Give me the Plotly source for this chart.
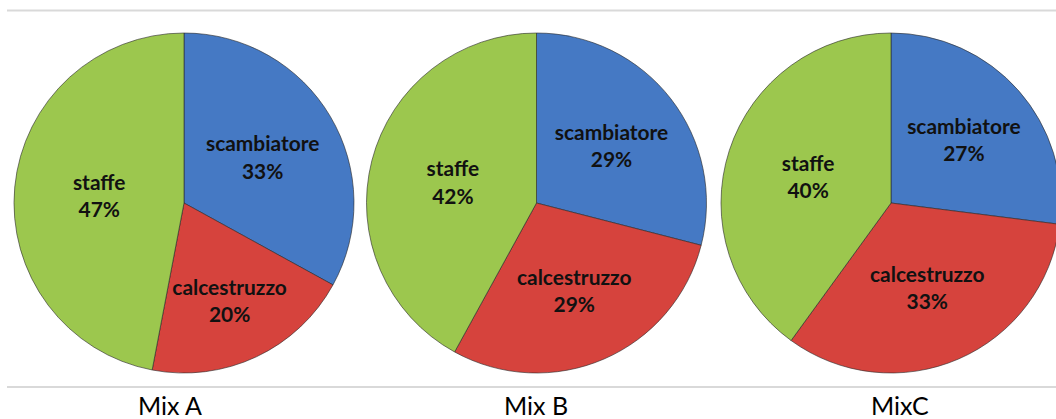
import plotly.graph_objects as go

# ---- data ----
categories = ["scambiatore", "calcestruzzo", "staffe"]
mix_names = ["Mix A", "Mix B", "MixC"]
mix_a = [33, 20, 47]
mix_b = [29, 29, 42]
mix_c = [27, 33, 40]
series = [mix_a, mix_b, mix_c]
colors = ["#4579c4", "#d6433d", "#9cc74e"]

# ---- layout geometry (pixels) ----
W, H = 1070, 419
centers_x = [184, 536.5, 891]
center_y = 203
radius = 170
label_x = [170, 536, 900]
label_y = 405

fig = go.Figure()
for i, vals in enumerate(series):
    cx = centers_x[i]
    x0 = (cx - radius) / W
    x1 = (cx + radius) / W
    yb = H - center_y
    y0 = (yb - radius) / H
    y1 = (yb + radius) / H
    fig.add_trace(go.Pie(
        labels=categories,
        values=vals,
        sort=False,
        direction="clockwise",
        rotation=0,
        marker=dict(colors=colors, line=dict(color="rgba(40,40,40,0.6)", width=1)),
        texttemplate="<b>%{label}<br>%{percent:.0%}</b>",
        textposition="inside",
        insidetextorientation="horizontal",
        textfont=dict(family="Lato", size=21, color="#111111"),
        domain=dict(x=[x0, x1], y=[y0, y1]),
        showlegend=False,
        hoverinfo="label+percent",
    ))

shapes = [
    dict(type="line", xref="paper", yref="paper", x0=7 / W, x1=1, y0=(H - 10.5) / H, y1=(H - 10.5) / H,
         line=dict(color="#d9d9d9", width=2)),
    dict(type="line", xref="paper", yref="paper", x0=7 / W, x1=1, y0=(H - 387) / H, y1=(H - 387) / H,
         line=dict(color="#d9d9d9", width=2)),
]

annotations = []
for i, name in enumerate(mix_names):
    annotations.append(dict(
        x=label_x[i] / W, y=(H - label_y) / H, xref="paper", yref="paper",
        text=name, showarrow=False, xanchor="center", yanchor="middle",
        font=dict(family="Lato", size=25, color="#000000"),
    ))

fig.update_layout(
    width=W, height=H,
    margin=dict(l=0, r=0, t=0, b=0),
    paper_bgcolor="white", plot_bgcolor="white",
    shapes=shapes, annotations=annotations,
    uniformtext=dict(minsize=10, mode="show"),
)

fig.write_html("out.html", config={"displayModeBar": False},
               post_script="document.body.style.margin='0';document.body.style.overflow='hidden';")
